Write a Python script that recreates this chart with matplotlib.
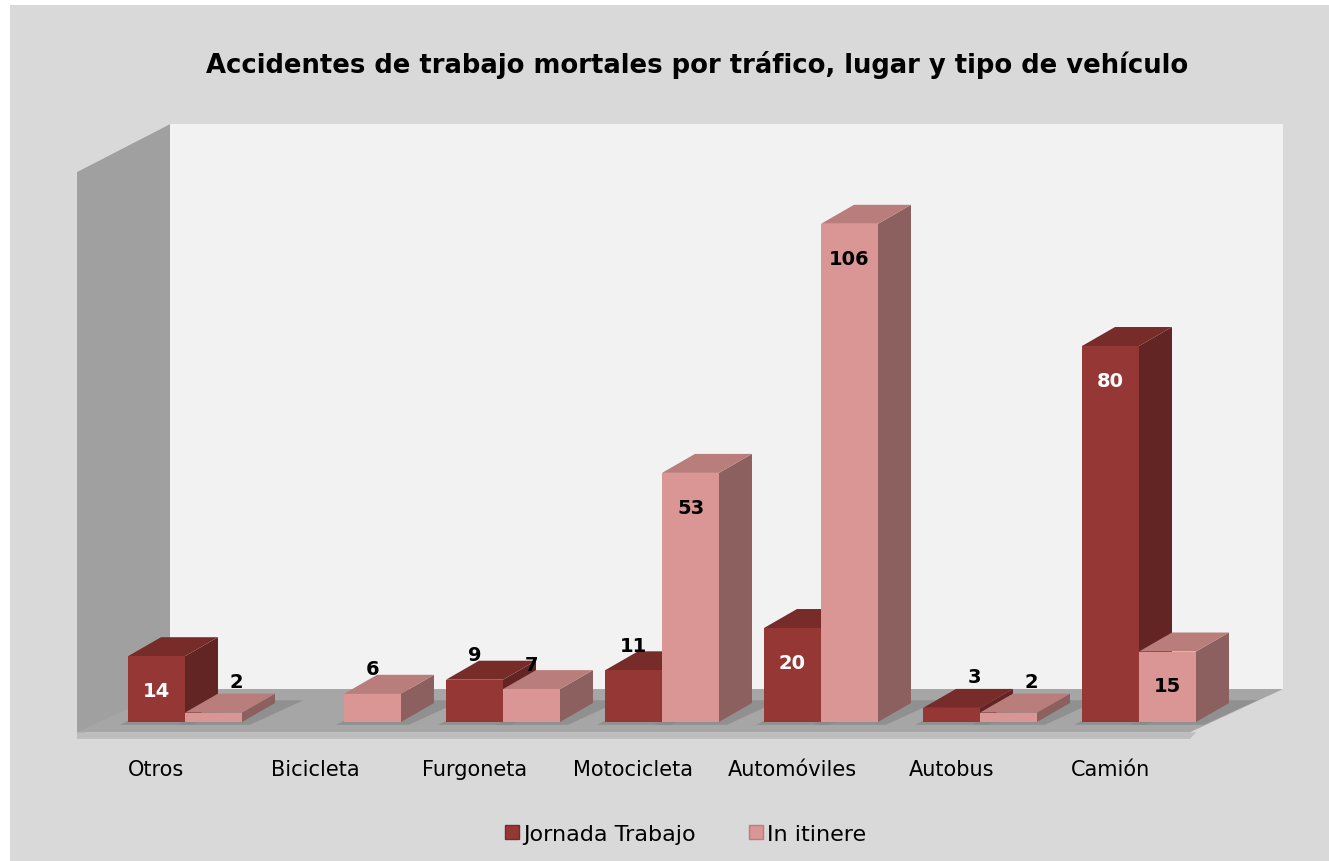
import numpy as np
import matplotlib.pyplot as plt
import matplotlib.patches as mpatches
from matplotlib.patches import Polygon, Rectangle

categorias = ['Otros', 'Bicicleta', 'Furgoneta', 'Motocicleta',
              'Automóviles', 'Autobus', 'Camión']
jornada = [14, np.nan, 9, 11, 20, 3, 80]
itinere = [2, 6, 7, 53, 106, 2, 15]
series = ['Jornada Trabajo', 'In itinere']

titulo = 'Accidentes de trabajo mortales por tráfico, lugar y tipo de vehículo'

# colours: front, top, side
rojo = ('#953735', '#772C2A', '#632523')
rosa = ('#D99694', '#B97D7C', '#8C605F')

W, H, DPI = 1329, 862, 100
fig = plt.figure(figsize=(W / DPI, H / DPI), dpi=DPI, facecolor='white')
fig.patches.append(Rectangle((10 / W, 0), 1, 1 - 6 / H,
                             transform=fig.transFigure,
                             facecolor='#D9D9D9', edgecolor='none', zorder=-10))

ax = fig.add_axes([0, 0, 1, 1])
ax.set_axis_off()
# one category = 159 px, one unit = 4.7 px
ax.set_xlim(-185 / 159, (W - 185) / 159)
ax.set_ylim((723 - H) / 4.7, 723 / 4.7)

bw = 0.3585          # bar width
bdx, bdy = 0.2075, 4.04   # bar depth
wdx, wdy = 0.585, 10.2    # wall depth
fx0, fx1 = -0.679, 6.32   # floor front left / right
fy = -3.19                # floor front
wall_top = 117.0

# side wall
ax.add_patch(Polygon([(fx0, fy), (fx0 + wdx, fy + wdy), (fx0 + wdx, wall_top + wdy),
                      (fx0, wall_top)], closed=True, facecolor='#A0A0A0',
                     edgecolor='none', zorder=1))
# back wall
ax.add_patch(Polygon([(fx0 + wdx, fy + wdy), (fx1 + wdx, fy + wdy),
                      (fx1 + wdx, wall_top + wdy), (fx0 + wdx, wall_top + wdy)],
                     closed=True, facecolor='#F2F2F2', edgecolor='none', zorder=1))
# floor top
ax.add_patch(Polygon([(fx0, fy + 1.0), (fx1, fy + 1.0), (fx1 + wdx, fy + wdy),
                      (fx0 + wdx, fy + wdy)], closed=True, facecolor='#A6A6A6',
                     edgecolor='none', zorder=2))
# floor lip
ax.add_patch(Polygon([(fx0, fy - 0.4), (fx1, fy - 0.4), (fx1 + 0.04, fy + 1.0),
                      (fx0, fy + 1.0)], closed=True, facecolor='#BDBDBD',
                     edgecolor='none', zorder=2))


def bar3d(x0, h, cols, z):
    x1 = x0 + bw
    # shadow on floor
    ax.add_patch(Polygon([(x0 - 0.05, -0.6), (x1 + 0.05, -0.6),
                          (x1 + bdx + 0.18, bdy + 0.6), (x0 + bdx + 0.05, bdy + 0.6)],
                         closed=True, facecolor='#888888', edgecolor='none',
                         alpha=0.7, zorder=2.5))
    ax.add_patch(Polygon([(x1, 0), (x1 + bdx, bdy), (x1 + bdx, h + bdy), (x1, h)],
                         closed=True, facecolor=cols[2], edgecolor='none', zorder=z))
    ax.add_patch(Polygon([(x0, h), (x1, h), (x1 + bdx, h + bdy), (x0 + bdx, h + bdy)],
                         closed=True, facecolor=cols[1], edgecolor='none', zorder=z))
    ax.add_patch(Rectangle((x0, 0), bw, h, facecolor=cols[0], edgecolor='none',
                           zorder=z + 0.1))


def etiqueta(x0, h, color_in):
    xc = x0 + bw / 2
    kw = dict(ha='center', va='center', fontsize=14, fontweight='bold', zorder=20)
    if h >= 14:
        ax.text(xc, h - 7.3, f'{h:g}', color=color_in, **kw)
    elif h < 5:
        ax.text(xc + bdx * 0.7, h + 6.6, f'{h:g}', color='black', **kw)
    else:
        ax.text(xc, h + 5.3, f'{h:g}', color='black', **kw)


z = 3
for i, cat in enumerate(categorias):
    if not np.isnan(jornada[i]):
        bar3d(i - bw, jornada[i], rojo, z)
        etiqueta(i - bw, jornada[i], 'white')
    z += 1
    bar3d(i, itinere[i], rosa, z)
    etiqueta(i, itinere[i], 'black')
    z += 1
    ax.text(i - 0.18, -10.0, cat, ha='center', va='center', fontsize=15,
            color='black')

fig.text(0.5245, 1 - 65 / H, titulo, ha='center', va='center', fontsize=18.6,
         fontweight='bold', color='black')

handles = [mpatches.Patch(facecolor=rojo[0], edgecolor=rojo[1]),
           mpatches.Patch(facecolor=rosa[0], edgecolor=rosa[1])]
fig.legend(handles, series, loc='center', bbox_to_anchor=(0.516, 1 - 835 / H),
           ncol=2, frameon=False, fontsize=16, handlelength=0.6,
           handleheight=0.6, handletextpad=0.2, columnspacing=2.4)

fig.savefig('out.png', dpi=DPI, facecolor='white')
